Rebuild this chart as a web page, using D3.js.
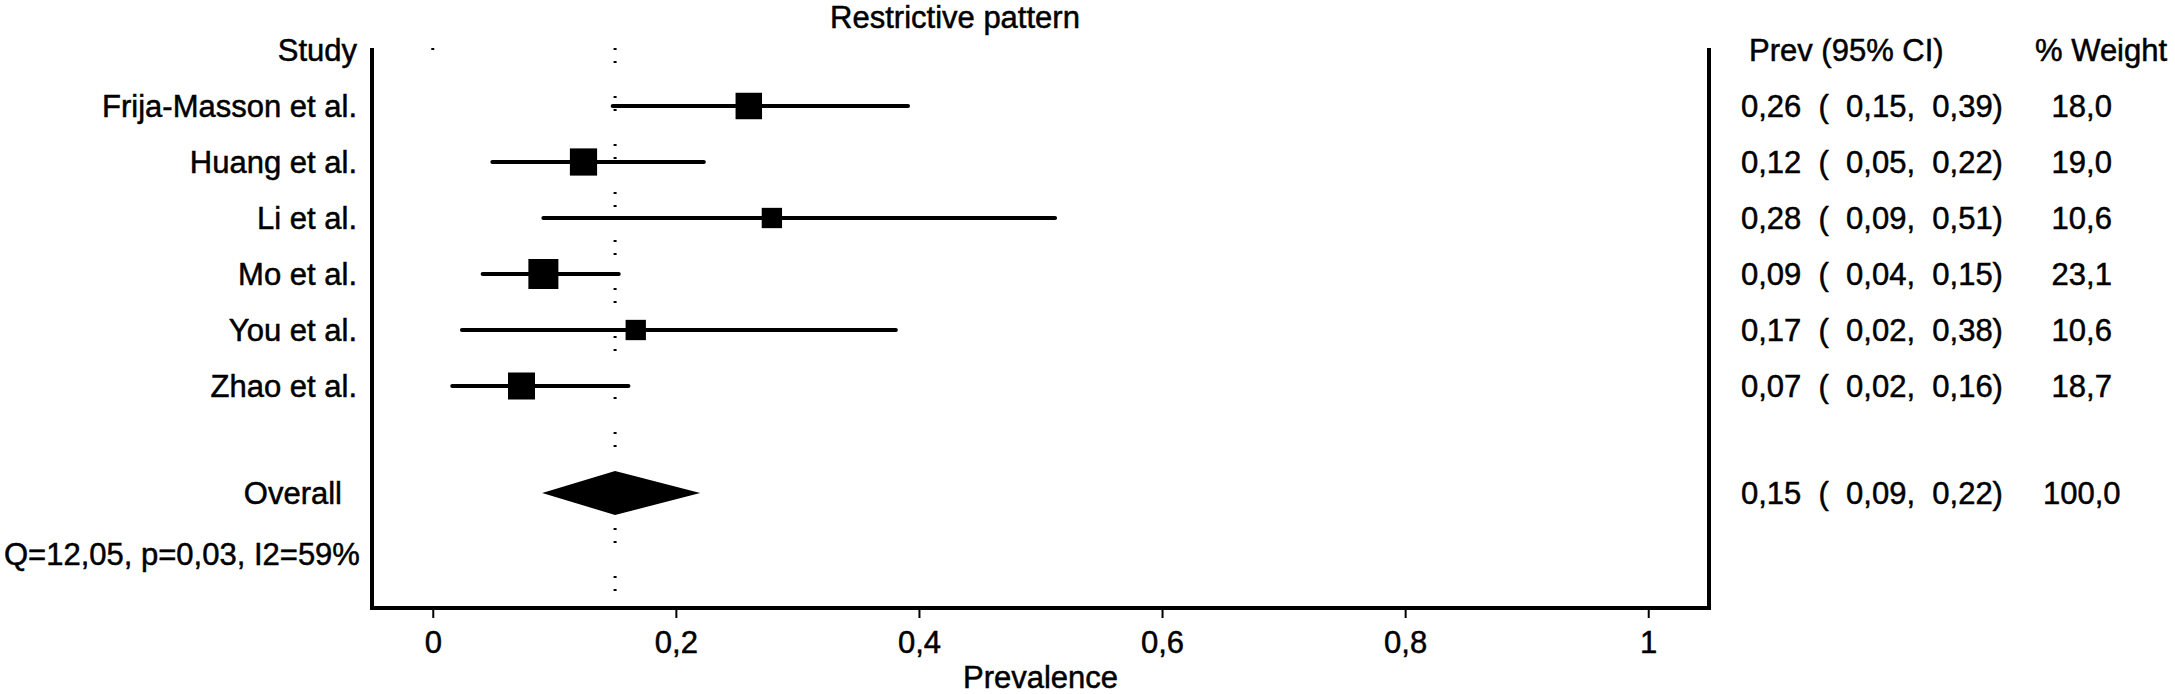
<!DOCTYPE html>
<html>
<head>
<meta charset="utf-8">
<script src="https://cdn.jsdelivr.net/npm/d3@7"></script>
<style>
  body { margin: 0; background: #fff; }
  svg text { font-family: "Liberation Sans", Arial, sans-serif; font-size: 31px; fill: #000; stroke: #000; stroke-width: 0.5px; }
</style>
</head>
<body>
<svg class="forest" width="2175" height="694"></svg>
<script>
'use strict'

// data
const studies = ['Frija-Masson et al.', 'Huang et al.', 'Li et al.', 'Mo et al.', 'You et al.', 'Zhao et al.']
const prev = [0.26, 0.124, 0.279, 0.091, 0.167, 0.073]
const ciLow = [0.148, 0.049, 0.091, 0.041, 0.024, 0.016]
const ciHigh = [0.391, 0.223, 0.512, 0.153, 0.381, 0.161]
const weight = [18.0, 19.0, 10.6, 23.1, 10.6, 18.7]
const overall = { est: 0.15, lo: 0.09, hi: 0.22, weight: 100.0 }
const xTicks = [0, 0.2, 0.4, 0.6, 0.8, 1]
const heterogeneity = 'Q=12,05, p=0,03, I2=59%'

const comma = v => String(v).replace('.', ',')
const fmt2 = v => v.toFixed(2).replace('.', ',')
const fmt1 = v => v.toFixed(1).replace('.', ',')

const svg = d3.select('.forest')

// scales
const x = d3.scaleLinear().domain([-0.05, 1.05]).range([372, 1709])
// row 0 = header, 1..6 studies, 7 blank, 8 overall, 9 heterogeneity
const y = d3.scaleLinear().domain([0, 9]).range([50, 554])
const boxSide = d3.scaleSqrt().domain([0, 23.1]).range([0, 30])

const plotTop = 48
const plotBottom = 608

// title
svg.append('text')
  .attr('x', 955)
  .attr('y', 28)
  .attr('text-anchor', 'middle')
  .text('Restrictive pattern')

// frame: left, right, bottom
svg.append('path')
  .attr('d', `M${x.range()[0]},${plotTop}V${plotBottom}H${x.range()[1]}V${plotTop}`)
  .attr('fill', 'none')
  .attr('stroke', '#000')
  .attr('stroke-width', 4)

// null line at 0 (only its first dot shows)
svg.append('line')
  .attr('x1', x(0)).attr('x2', x(0))
  .attr('y1', plotTop).attr('y2', plotTop + 2)
  .attr('stroke', '#000')
  .attr('stroke-width', 3)

// dotted line at the overall estimate
svg.append('line')
  .attr('x1', x(overall.est)).attr('x2', x(overall.est))
  .attr('y1', plotTop).attr('y2', plotBottom - 10)
  .attr('stroke', '#000')
  .attr('stroke-width', 3)
  .attr('stroke-dasharray', '2 11 2 33')

// x axis
const axis = svg.append('g')
  .attr('transform', `translate(0,${plotBottom + 2})`)
  .call(d3.axisBottom(x)
    .tickValues(xTicks)
    .tickSize(8)
    .tickSizeOuter(0)
    .tickPadding(13)
    .tickFormat(comma))
axis.select('.domain').remove()
axis.selectAll('.tick line').attr('stroke-width', 2)
axis.selectAll('text').attr('font-size', null).attr('font-family', null)

svg.append('text')
  .attr('x', (x.range()[0] + x.range()[1]) / 2)
  .attr('y', 688)
  .attr('text-anchor', 'middle')
  .text('Prevalence')

// headers
svg.append('text').attr('x', 357).attr('y', y(0) + 11).attr('text-anchor', 'end').text('Study')
svg.append('text').attr('x', 1749).attr('y', y(0) + 11).text('Prev (95% CI)')
svg.append('text').attr('x', 2035).attr('y', y(0) + 11).text('% Weight')

// study rows
const rows = studies.map((name, i) => ({
  name, est: prev[i], lo: ciLow[i], hi: ciHigh[i], w: weight[i], row: i + 1
}))

const g = svg.append('g').selectAll('g')
  .data(rows)
  .enter()
  .append('g')

g.append('text')
  .attr('x', 357)
  .attr('y', d => y(d.row) + 11)
  .attr('text-anchor', 'end')
  .text(d => d.name)

g.append('line')
  .attr('x1', d => x(d.lo))
  .attr('x2', d => x(d.hi))
  .attr('y1', d => y(d.row))
  .attr('y2', d => y(d.row))
  .attr('stroke', '#000')
  .attr('stroke-width', 4)
  .attr('stroke-linecap', 'round')

g.append('rect')
  .attr('x', d => x(d.est) - boxSide(d.w) / 2)
  .attr('y', d => y(d.row) - boxSide(d.w) / 2)
  .attr('width', d => boxSide(d.w))
  .attr('height', d => boxSide(d.w))
  .attr('fill', '#000')

g.append('text')
  .attr('x', 1741)
  .attr('y', d => y(d.row) + 11)
  .attr('xml:space', 'preserve')
  .text(d => `${fmt2(d.est)}  (  ${fmt2(d.lo)},  ${fmt2(d.hi)})`)

g.append('text')
  .attr('x', 2043)
  .attr('y', d => y(d.row) + 11)
  .attr('xml:space', 'preserve')
  .text(d => ' ' + fmt1(d.w))

// overall
const oy = y(8) - 5
svg.append('text').attr('x', 342).attr('y', oy + 11).attr('text-anchor', 'end').text('Overall')
svg.append('path')
  .attr('d', `M${x(overall.lo)},${oy}L${x(overall.est)},${oy - 22}L${x(overall.hi)},${oy}L${x(overall.est)},${oy + 22}Z`)
  .attr('fill', '#000')
svg.append('text')
  .attr('x', 1741)
  .attr('y', oy + 11)
  .attr('xml:space', 'preserve')
  .text(`${fmt2(overall.est)}  (  ${fmt2(overall.lo)},  ${fmt2(overall.hi)})`)
svg.append('text')
  .attr('x', 2043)
  .attr('y', oy + 11)
  .text(fmt1(overall.weight))

// heterogeneity
svg.append('text')
  .attr('x', 4)
  .attr('y', y(9) + 11)
  .text(heterogeneity)
</script>
</body>
</html>
